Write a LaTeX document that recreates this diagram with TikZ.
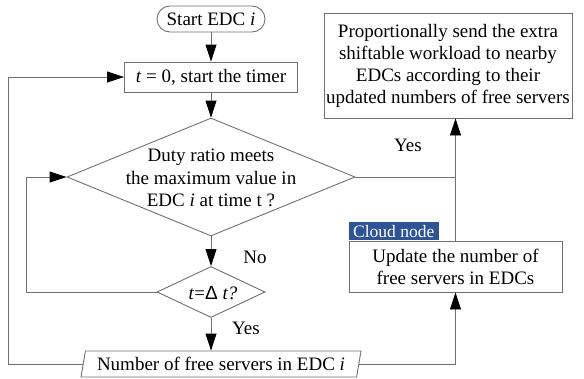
\documentclass[tikz,border=0pt]{standalone}
\usepackage{fontspec}
\setmainfont{Liberation Serif}
\newfontfamily\deltafont{Liberation Sans}
\usetikzlibrary{shapes.geometric,arrows.meta,calc}
\definecolor{ln}{RGB}{112,112,112}
\definecolor{cloudblue}{RGB}{47,84,150}
\begin{document}
\begin{tikzpicture}[x=1pt,y=-1pt,
  font=\rmfamily\fontsize{19}{22}\selectfont,
  box/.style={draw=ln, line width=0.9pt, align=center, inner sep=0pt},
  arr/.style={draw=ln, line width=0.9pt, -{Triangle[length=17pt,width=11pt,color=black,fill=black]}},
  con/.style={draw=ln, line width=0.9pt},
  lbl/.style={inner sep=0pt}]
\useasboundingbox (0,0) rectangle (584,378);

\node[box, rounded corners=13pt, minimum width=108pt, minimum height=26pt] (start) at (211,19) {Start EDC \textit{i}};
\node[box, minimum width=173pt, minimum height=30pt] (init) at (211,77) {\textit{t} = 0, start the timer};
\node[box, diamond, minimum width=288pt, minimum height=118pt] (dia) at (211,177) {};
\node[align=center, lbl, font=\rmfamily\fontsize{19}{22.5}\selectfont] (diat) at (211,178) {Duty ratio meets\\the maximum value in\\EDC \textit{i} at time t ?};
\node[box, diamond, minimum width=108pt, minimum height=51pt] (sdia) at (211,292) {};
\node[lbl] (sdiat) at (213,293) {\textit{t}={\deltafont Δ} \textit{t?}};
\node[box, minimum width=248pt, minimum height=105pt] (send) at (448,65.5) {Proportionally send the extra\\shiftable workload to nearby\\EDCs according to their\\updated numbers of free servers};
\node[box, minimum width=213pt, minimum height=51pt] (upd) at (455.5,266.5) {Update the number of\\free servers in EDCs};
\node[fill=cloudblue, text=white, font=\rmfamily\fontsize{17.5}{18}\selectfont, anchor=south west, minimum width=90pt, minimum height=18pt, inner sep=0pt] (cloud) at (upd.north west) {Cloud node};
\node[box, trapezium, trapezium left angle=72, trapezium right angle=108, trapezium stretches body, minimum width=280pt, minimum height=26pt] (par) at (221,364) {Number of free servers in EDC \textit{i}};

\coordinate (il) at (26,177);
\coordinate (ol) at (8,77);

\draw[arr] (start) -- (init);
\draw[arr] (init) -- (dia);
\draw[arr] (dia) -- (sdia);
\draw[arr] (sdia.south) -- (sdia.south |- par.north);
\draw[arr] (sdia.west) -| (il) -- (dia.west);
\draw[arr] (par.west) -| (ol) -- (init.west);
\draw[arr] (par.east) -| (upd.south);
\draw[con] (dia.east) -- (dia.east -| upd.north) coordinate (j);
\draw[arr] (upd.north) -- (send.south -| upd.north);

\node[lbl] (no) at (255,257) {No};
\node[lbl] (yes2) at (246,328) {Yes};
\node[lbl] (yes1) at (408,145) {Yes};
\end{tikzpicture}
\end{document}
